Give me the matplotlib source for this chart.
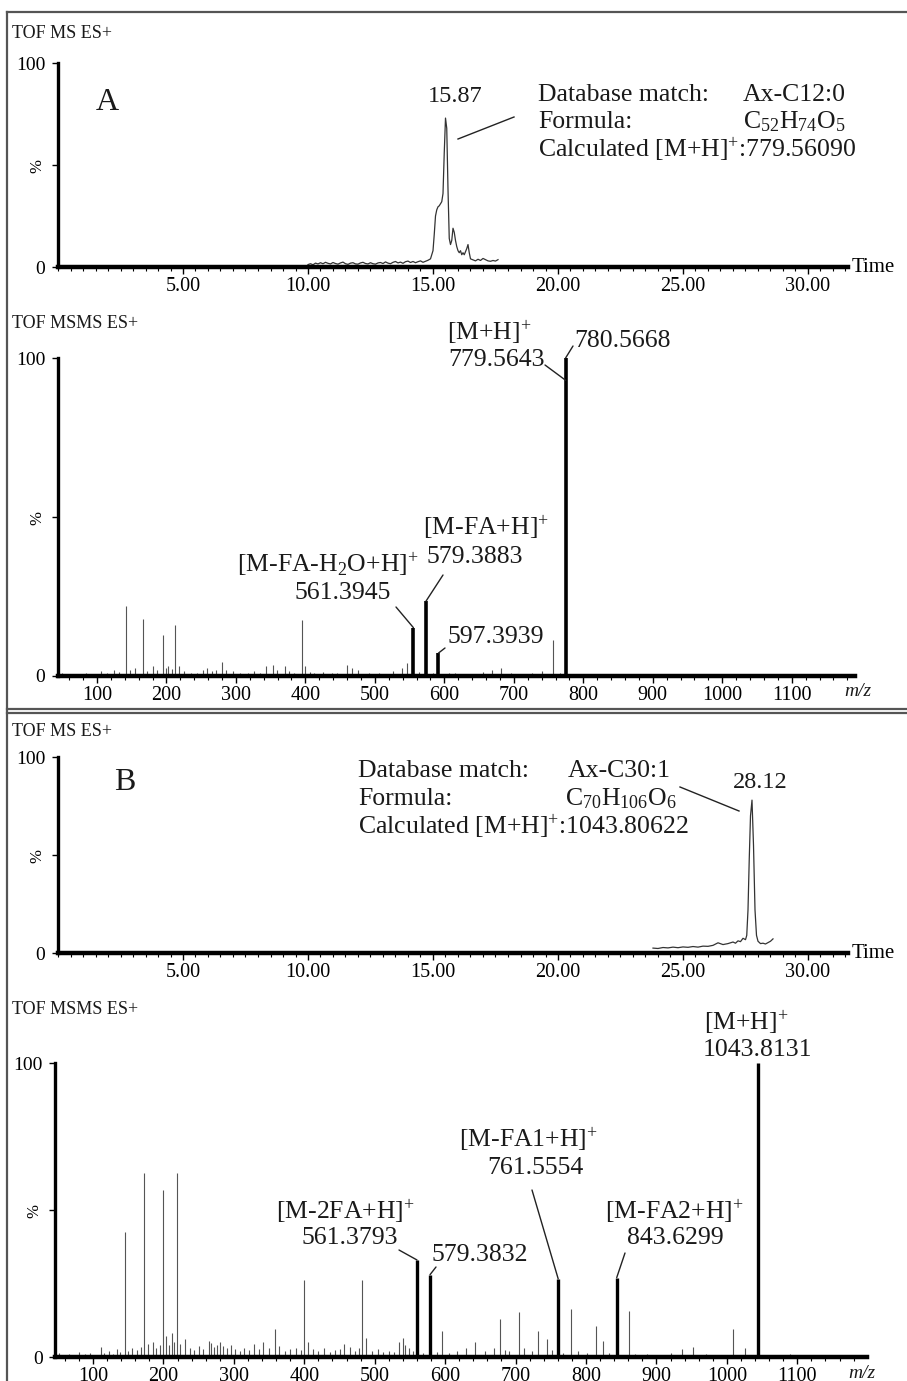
"""
Cromatogramas TOF MS y espectros TOF MSMS de dos ésteres de astaxantina
(A: Ax-C12:0, B: Ax-C30:1). Se guarda en out.png.
"""

import matplotlib
matplotlib.use("Agg")
import matplotlib.pyplot as plt
from matplotlib.lines import Line2D
from matplotlib.ticker import MultipleLocator

plt.rcParams["font.family"] = ["Liberation Serif", "DejaVu Serif"]
plt.rcParams["mathtext.fontset"] = "custom"
plt.rcParams["mathtext.rm"] = "Liberation Serif"
plt.rcParams["mathtext.it"] = "Liberation Serif:italic"

W, H = 907, 1381

# ---------------- datos: cromatograma A (tiempo, %) ----------------
crom_a_t = [10.0, 10.1, 10.2, 10.3, 10.4, 10.5, 10.6, 10.7, 10.8, 10.9,
            11.0, 11.1, 11.2, 11.3, 11.4, 11.5, 11.6, 11.7, 11.8, 11.9,
            12.0, 12.1, 12.2, 12.3, 12.4, 12.5, 12.6, 12.7, 12.8, 12.9,
            13.0, 13.1, 13.2, 13.3, 13.4, 13.5, 13.6, 13.7, 13.8, 13.9,
            14.0, 14.1, 14.2, 14.3, 14.4, 14.5, 14.6, 14.7, 14.8, 14.9,
            15.0, 15.05, 15.1, 15.15, 15.2, 15.25, 15.3, 15.35, 15.4, 15.45,
            15.5, 15.55, 15.6, 15.65, 15.7, 15.75, 15.8, 15.85, 15.9, 15.95,
            16.0, 16.05, 16.1, 16.15, 16.2, 16.25, 16.3, 16.35, 16.4, 16.45,
            16.5, 16.6, 16.7, 16.8, 16.9, 17.0, 17.1, 17.2, 17.3, 17.4,
            17.5, 17.6]
crom_a_i = [1.2, 1.6, 1.1, 1.9, 1.5, 2.1, 1.6, 2.3, 1.8, 1.5,
            2.2, 1.7, 1.4, 2.0, 2.4, 1.6, 1.3, 1.9, 2.1, 1.5,
            1.4, 2.0, 2.3, 1.7, 1.5, 2.1, 1.6, 1.4, 2.0, 2.2,
            1.7, 2.5, 1.9, 1.6, 2.3, 2.7, 2.0, 2.4, 1.8, 2.6,
            2.9, 2.2, 2.7, 2.1, 2.6, 3.0, 2.3, 2.8, 3.3, 4.0,
            8.0, 16.0, 25.0, 28.0, 29.5, 30.0, 31.0, 32.0, 36.0, 56.0,
            73.0, 68.0, 38.0, 14.0, 11.0, 13.0, 19.0, 17.0, 13.0, 10.0,
            8.0, 7.0, 8.0, 6.0, 7.0, 6.0, 7.5, 9.0, 11.0, 7.0,
            4.0, 3.5, 3.0, 3.8, 3.2, 4.2, 3.6, 3.0, 2.8, 3.2,
            2.9, 3.6]

# ---------------- datos: cromatograma B ----------------
crom_b_t = [23.8, 24.0, 24.2, 24.4, 24.6, 24.8, 25.0, 25.2, 25.4, 25.6,
            25.8, 26.0, 26.2, 26.4, 26.6, 26.8, 27.0, 27.1, 27.2, 27.3,
            27.4, 27.5, 27.55, 27.6, 27.65, 27.7, 27.76, 27.82, 27.88, 27.94,
            28.0, 28.1, 28.2, 28.3, 28.4, 28.5, 28.6]
crom_b_i = [2.5, 2.3, 2.8, 2.6, 3.0, 2.7, 3.1, 2.9, 3.3, 3.0,
            3.5, 3.4, 3.9, 5.2, 4.3, 4.8, 5.6, 5.0, 6.2, 5.8,
            7.5, 6.8, 9.0, 22.0, 48.0, 70.0, 78.0, 55.0, 22.0, 9.0,
            6.0, 4.8, 5.0, 4.6, 5.3, 6.0, 7.2]

msms_a_mz = [50, 58, 72, 85, 94, 106, 114, 124, 132, 142, 147, 155, 166, 172,
             180, 187, 195, 199, 203, 208, 213, 218, 225, 236, 244, 252, 259,
             266, 272, 280, 286, 296, 306, 318, 326, 334, 343, 353, 359, 370,
             376, 384, 395, 400, 406, 412, 426, 438, 446, 460, 467, 476, 491,
             506, 516, 526, 539, 546, 564, 584, 606, 616, 636, 656, 668, 681,
             696, 711, 726, 741, 756, 766]
msms_a_int = [0.8, 0.5, 0.7, 1.0, 0.6, 1.5, 1.0, 2.0, 1.2, 22.0, 2.0, 2.5, 18.0, 1.5,
              3.0, 2.0, 13.0, 2.5, 3.0, 2.2, 16.0, 3.0, 1.5, 1.0, 0.8, 2.0, 2.5,
              1.5, 1.8, 4.5, 2.0, 1.5, 1.0, 0.8, 1.5, 1.0, 3.0, 3.5, 2.0, 3.0,
              1.5, 1.0, 17.5, 3.0, 1.2, 1.0, 1.2, 0.8, 1.0, 3.5, 2.5, 2.0, 1.0,
              1.0, 0.7, 1.5, 2.5, 4.0, 1.2, 1.0, 0.8, 1.0, 0.6, 1.2, 2.0, 2.5,
              1.0, 0.6, 1.0, 1.5, 11.2, 0.8]
msms_a_main_mz = [555.5, 573.5, 591.5, 774.5]
msms_a_main_int = [15.2, 23.5, 7.2, 100.0]

# ---------------- datos: MSMS B ----------------
msms_b_mz = [52, 58, 66, 74, 80, 88, 95, 103, 111, 116, 122, 128, 134, 139,
             145, 150, 156, 163, 168, 172, 178, 185, 190, 195, 199, 203, 208,
             212, 215, 219, 224, 231, 238, 244, 250, 256, 264, 268, 272, 276,
             280, 285, 290, 296, 302, 308, 315, 322, 329, 335, 342, 350, 358,
             364, 372, 380, 388, 395, 399, 405, 412, 420, 428, 436, 444, 450,
             457, 465, 472, 478, 482, 488, 496, 505, 512, 520, 527, 534, 540,
             543, 549, 555, 568, 588, 596, 605, 617, 629, 642, 656, 670, 678,
             685, 691, 705, 712, 724, 732, 745, 752, 768, 779, 789, 802, 814,
             824, 832, 861, 870, 887, 905, 920, 937, 952, 970, 990, 1009, 1026,
             1060, 1090, 1120]
msms_b_int = [1.2, 0.8, 1.0, 0.7, 1.6, 0.9, 1.3, 0.8, 3.4, 1.5, 2.2, 1.0, 2.6, 1.8,
              42.6, 2.0, 3.0, 2.4, 3.5, 62.5, 4.5, 5.0, 3.2, 4.0, 56.7, 7.0, 4.2,
              8.0, 5.0, 62.5, 4.4, 6.0, 3.0, 2.5, 3.6, 2.8, 5.5, 4.8, 3.5, 4.2,
              5.0, 3.8, 3.2, 4.0, 2.6, 2.2, 3.0, 2.4, 4.5, 2.8, 5.0, 3.0, 9.6,
              3.6, 2.0, 2.8, 3.2, 2.4, 26.2, 5.0, 2.6, 2.0, 3.0, 1.8, 2.4, 2.8,
              4.5, 3.5, 2.2, 3.0, 26.2, 6.5, 2.0, 2.6, 1.6, 2.2, 1.8, 5.0, 6.5,
              4.0, 3.0, 2.0, 1.5, 1.8, 9.0, 1.2, 2.0, 3.0, 5.0, 2.0, 3.0, 13.0,
              2.4, 2.0, 15.3, 3.0, 2.0, 9.0, 6.0, 2.5, 1.5, 16.2, 2.0, 1.5, 10.4,
              5.6, 1.2, 15.8, 1.0, 1.0, 0.8, 1.2, 2.6, 3.4, 1.0, 0.8, 9.4, 3.2,
              0.8, 1.0, 0.6]
msms_b_main_mz = [560.0, 578.5, 760.5, 843.6, 1043.8]
msms_b_main_int = [33.0, 28.0, 26.6, 27.0, 100.0]

tiempo_ticks = [5, 10, 15, 20, 25, 30]
tiempo_labels = ["5.00", "10.00", "15.00", "20.00", "25.00", "30.00"]
mz_ticks = [100, 200, 300, 400, 500, 600, 700, 800, 900, 1000, 1100]


def fx(x):
    return x / W


def fy(y):
    return 1 - y / H


def ejes(left, top, right, bottom):
    return fig.add_axes([fx(left), fy(bottom), (right - left) / W, (bottom - top) / H])


def estilo(ax, xlim, major, minor, etiquetas=None):
    ax.set_xlim(*xlim)
    ax.set_ylim(0, 100)
    for s in ("top", "right"):
        ax.spines[s].set_visible(False)
    ax.spines["left"].set_linewidth(2.4)
    ax.spines["bottom"].set_linewidth(3.2)
    ax.set_xticks(major)
    ax.set_xticklabels(etiquetas if etiquetas else [str(v) for v in major])
    ax.xaxis.set_minor_locator(MultipleLocator(minor))
    ax.tick_params(axis="x", which="major", direction="out", length=5, width=1,
                   labelsize=14.5, pad=2.5)
    ax.tick_params(axis="x", which="minor", direction="out", length=3, width=0.8)
    ax.set_yticks([0, 50, 100])
    ax.set_yticklabels(["0", "%", "100"])
    ax.tick_params(axis="y", direction="out", length=4, width=1, labelsize=14, pad=5)
    ax.get_yticklabels()[1].set_rotation(90)
    ax.get_yticklabels()[1].set_fontsize(12)
    ax.patch.set_alpha(0)


def texto(x, y, s, size=18.5, ha="left", va="center", **kw):
    fig.text(fx(x), fy(y), s, fontsize=size, ha=ha, va=va, color="#1a1a1a", **kw)


def linea(x0, y0, x1, y1):
    fig.add_artist(Line2D([fx(x0), fx(x1)], [fy(y0), fy(y1)], transform=fig.transFigure,
                          color="#222222", lw=1.0))


def guia(ax, x0, y0, mz, inten):
    ax.annotate("", xy=(mz, inten), xycoords="data", xytext=(fx(x0), fy(y0)),
                textcoords="figure fraction",
                arrowprops=dict(arrowstyle="-", lw=1.0, color="#222222",
                                shrinkA=0, shrinkB=0))


fig = plt.figure(figsize=(W / 100, H / 100), dpi=100)

# marcos
for x0, y0, x1, y1 in [(7, 12, 907, 12), (7, 12, 7, 1381), (7, 709, 907, 709), (7, 713, 907, 713)]:
    fig.add_artist(Line2D([fx(x0), fx(x1)], [fy(y0), fy(y1)], transform=fig.transFigure,
                          color="#555555", lw=1.6))

# ---- cromatograma A ----
ax1 = ejes(58, 63, 848, 267)
estilo(ax1, (0, 31.6), tiempo_ticks, 0.5, tiempo_labels)
ax1.plot(crom_a_t, crom_a_i, color="#333333", lw=0.9)
ax1.text(1.005, 0, "Time", transform=ax1.transAxes, ha="left", va="center", fontsize=15)
texto(12, 33, "TOF MS ES+", size=13)
texto(96, 103, "A", size=23)
texto(455, 97, "15.87", size=17.5, ha="center")
linea(458, 139, 514, 117)
texto(538, 95, "Database match:")
texto(743, 95, "Ax-C12:0")
texto(538, 122, "Formula:")
texto(743, 122, "C$_{52}$H$_{74}$O$_{5}$")
texto(538, 150, "Calculated [M+H]$^{+}$:779.56090")

# ---- MSMS A ----
ax2 = ejes(58, 358, 855, 676)
estilo(ax2, (44, 1191), mz_ticks, 20)
ax2.vlines(msms_a_mz, 0, msms_a_int, color="#555555", lw=0.8)
ax2.vlines(msms_a_main_mz, 0, msms_a_main_int, color="black", lw=2.6)
texto(858, 691, "m/z", size=14, ha="center", fontstyle="italic")
texto(12, 323, "TOF MSMS ES+", size=13)
texto(489, 333, "[M+H]$^{+}$", ha="center")
texto(496, 360, "779.5643", ha="center")
guia(ax2, 545, 365, 774.5, 93)
texto(622, 341, "780.5668", ha="center")
guia(ax2, 573, 346, 774.5, 100)
texto(486, 528, "[M-FA+H]$^{+}$", ha="center")
texto(475, 557, "579.3883", ha="center")
guia(ax2, 443, 575, 573.5, 23.5)
texto(328, 565, "[M-FA-H$_{2}$O+H]$^{+}$", ha="center")
texto(343, 593, "561.3945", ha="center")
guia(ax2, 396, 607, 555.5, 15.2)
texto(496, 637, "597.3939", ha="center")
guia(ax2, 445, 648, 591.5, 7.2)

# ---- cromatograma B ----
ax3 = ejes(58, 757, 848, 953)
estilo(ax3, (0, 31.6), tiempo_ticks, 0.5, tiempo_labels)
ax3.plot(crom_b_t, crom_b_i, color="#333333", lw=0.9)
ax3.text(1.005, 0, "Time", transform=ax3.transAxes, ha="left", va="center", fontsize=15)
texto(12, 731, "TOF MS ES+", size=13)
texto(114, 783, "B", size=23)
texto(760, 782, "28.12", size=17.5, ha="center")
linea(680, 787, 739, 811)
texto(358, 771, "Database match:")
texto(568, 771, "Ax-C30:1")
texto(358, 799, "Formula:")
texto(565, 799, "C$_{70}$H$_{106}$O$_{6}$")
texto(358, 827, "Calculated [M+H]$^{+}$:1043.80622")

# ---- MSMS B ----
ax4 = ejes(55, 1063, 867, 1357)
estilo(ax4, (46, 1199), mz_ticks, 20)
ax4.vlines(msms_b_mz, 0, msms_b_int, color="#555555", lw=0.8)
ax4.vlines(msms_b_main_mz, 0, msms_b_main_int, color="black", lw=2.4)
texto(862, 1373, "m/z", size=14, ha="center", fontstyle="italic")
texto(12, 1010, "TOF MSMS ES+", size=13)
texto(746, 1023, "[M+H]$^{+}$", ha="center")
texto(757, 1050, "1043.8131", ha="center")
texto(528, 1140, "[M-FA1+H]$^{+}$", ha="center")
texto(535, 1168, "761.5554", ha="center")
guia(ax4, 532, 1190, 760.5, 26.6)
texto(345, 1212, "[M-2FA+H]$^{+}$", ha="center")
texto(350, 1238, "561.3793", ha="center")
guia(ax4, 399, 1250, 560.0, 33.0)
texto(480, 1255, "579.3832", ha="center")
guia(ax4, 436, 1267, 578.5, 28.0)
texto(674, 1212, "[M-FA2+H]$^{+}$", ha="center")
texto(675, 1238, "843.6299", ha="center")
guia(ax4, 625, 1253, 843.6, 27.0)

fig.savefig("out.png", dpi=100)
